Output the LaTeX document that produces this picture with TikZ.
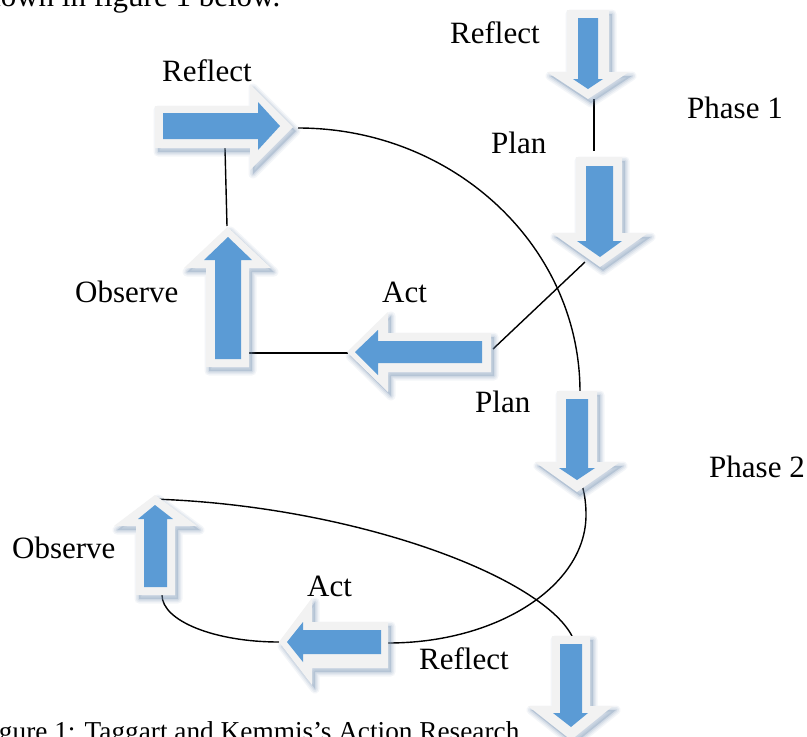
\documentclass[tikz,border=0pt]{standalone}
\usepackage{fontspec}
\setmainfont{Liberation Serif}
\definecolor{bluec}{HTML}{5B9BD5}
\definecolor{rimc}{HTML}{F2F2F2}
\definecolor{shadowc}{HTML}{6F8CB0}
\newcommand\fatarrow[2]{%
  \foreach \w/\o in {9/0.08,6/0.10,3/0.14}{%
    \path[shift={(3,4)}, draw=shadowc, fill=shadowc, line width=\w pt, line join=round, opacity=\o] #1;}
  \path[fill=rimc] #1;
  \path[fill=bluec] #2;
}
\tikzset{
  lbl/.style={inner sep=0pt, anchor=base west, font=\fontsize{31}{36}\selectfont},
  captext/.style={inner sep=0pt, anchor=base west, font=\fontsize{27.3}{32}\selectfont},
  conn/.style={draw=black, line width=1.4pt},
}
\begin{document}
\begin{tikzpicture}[x=1pt,y=-1pt]
\useasboundingbox (0,0) rectangle (807,737);
\clip (0,0) rectangle (807,737);
\fill[white] (0,0) rectangle (807,737);

% cut-off surrounding text
\node[lbl] (toptext) at (-27,6) {shown in figure 1 below.};
\node[captext] (caption) at (-24,740) {Figure 1: Taggart and Kemmis’s Action Research};

% connector end points
\coordinate (a1tip) at (594,99);
\coordinate (a2top) at (594,151);
\coordinate (a3bot) at (225,148);
\coordinate (a4tip) at (227,226);
\coordinate (a4side) at (249,353);
\coordinate (a5tip) at (348,353);
\coordinate (a5end) at (493,349);
\coordinate (a2tip) at (585,262);
\coordinate (a3tip) at (298,128);
\coordinate (a6top) at (580,392);
\coordinate (a6tip) at (582,485);
\coordinate (loopr) at (586,515);
\coordinate (a7end) at (388,643);
\coordinate (a7tip) at (279,642);
\coordinate (a9bot) at (162,595);
\coordinate (a9tip) at (152,499);
\coordinate (a8top) at (572,636);

% connectors
\draw[conn] (a1tip) -- (a2top);
\draw[conn] (a3bot) -- (a4tip);
\draw[conn] (a4side) -- (a5tip);
\draw[conn] (a5end) -- (a2tip);
\draw[conn] (a3tip) .. controls (453.7,128) and (580,246.2) .. (a6top);
\draw[conn] (a6tip) .. controls (585,495) and (586,505) .. (loopr)
            .. controls (586,585.7) and (497.4,643) .. (a7end);
\draw[conn] (a7tip) .. controls (214.8,642) and (162,621) .. (a9bot);
\draw[conn] (a9tip) .. controls (350,505) and (540,575) .. (a8top);

% block arrows
% A1 down (Reflect, phase 1 top)
\fatarrow{(567,10) -- (609,10) -- (609,72) -- (629,72) -- (588,99) -- (547,72) -- (567,72) -- cycle}
         {(578,18) -- (598,18) -- (598,79) -- (603,79) -- (588,89) -- (573,79) -- (578,79) -- cycle}
% A2 down (Plan 1)
\fatarrow{(576,157) -- (622,157) -- (622,233) -- (648,233) -- (600,267) -- (552,233) -- (576,233) -- cycle}
         {(586,166) -- (613,166) -- (613,241) -- (622,241) -- (600,257) -- (577,241) -- (586,241) -- cycle}
% A3 right (Reflect top-left)
\fatarrow{(155,106) -- (250,106) -- (250,84) -- (293,127) -- (250,170) -- (250,148) -- (155,148) -- cycle}
         {(163,113) -- (258,113) -- (258,102) -- (280,126) -- (258,150) -- (258,139) -- (163,139) -- cycle}
% A4 up (Observe 1)
\fatarrow{(206,367) -- (206,268) -- (184,268) -- (227.5,227) -- (271,268) -- (249,268) -- (249,367) -- cycle}
         {(215,359) -- (215,260) -- (204,260) -- (228,237) -- (252,260) -- (241,260) -- (241,359) -- cycle}
% A5 left (Act 1)
\fatarrow{(491,333) -- (388,333) -- (388,312) -- (347,352) -- (388,392) -- (388,372) -- (491,372) -- cycle}
         {(482,341) -- (378,341) -- (378,330) -- (355,352) -- (378,375) -- (378,363) -- (482,363) -- cycle}
% A6 down (Plan 2)
\fatarrow{(557,391) -- (597,391) -- (597,462) -- (620,462) -- (577,492) -- (535,462) -- (557,462) -- cycle}
         {(566,399) -- (588,399) -- (588,468) -- (595,468) -- (577,480) -- (559,468) -- (566,468) -- cycle}
% A7 left (Act 2)
\fatarrow{(388,622) -- (312,622) -- (312,598) -- (279,642) -- (312,685) -- (312,668) -- (388,668) -- cycle}
         {(381,630) -- (303,630) -- (303,622) -- (287,642) -- (303,662) -- (303,654) -- (381,654) -- cycle}
% A8 down (bottom right)
\fatarrow{(552,636) -- (590,636) -- (590,706) -- (613,706) -- (571,740) -- (528,706) -- (552,706) -- cycle}
         {(560,644) -- (582,644) -- (582,713) -- (588,713) -- (571,727) -- (553,713) -- (560,713) -- cycle}
% A9 up (Observe 2)
\fatarrow{(136,595) -- (136,526) -- (114,526) -- (155,495) -- (197,526) -- (175,526) -- (175,595) -- cycle}
         {(144,587) -- (144,519) -- (138,519) -- (155,505) -- (173,519) -- (167,519) -- (167,587) -- cycle}

% labels
\node[lbl] (reflectA) at (162,81) {Reflect};
\node[lbl] (reflectB) at (450,43) {Reflect};
\node[lbl] (phase1) at (687,118) {Phase 1};
\node[lbl] (plan1) at (491,153) {Plan};
\node[lbl] (observe1) at (75,302) {Observe};
\node[lbl] (act1) at (382,302) {Act};
\node[lbl] (plan2) at (475,412) {Plan};
\node[lbl] (phase2) at (709,477) {Phase 2};
\node[lbl] (observe2) at (12,558) {Observe};
\node[lbl] (act2) at (307,596) {Act};
\node[lbl] (reflectC) at (419,669) {Reflect};
\end{tikzpicture}
\end{document}
